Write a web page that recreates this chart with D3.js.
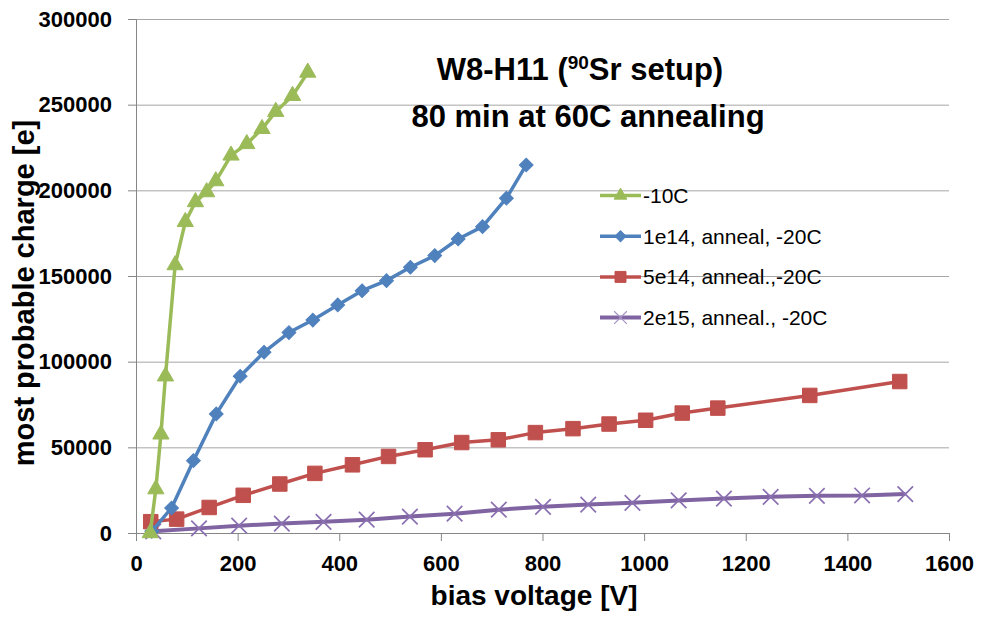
<!DOCTYPE html>
<html>
<head>
<meta charset="utf-8">
<script src="https://cdn.jsdelivr.net/npm/d3@7"></script>
<style>
  body { margin: 0; background: #fff; }
  svg text { font-family: "Liberation Sans", Arial, sans-serif; fill: #000; }
</style>
</head>
<body>
<svg id="chart" width="981" height="619"></svg>
<script>
// Data
var xTicks = [0, 200, 400, 600, 800, 1000, 1200, 1400, 1600];
var yTicks = [0, 50000, 100000, 150000, 200000, 250000, 300000];

var greenV = [28, 39, 49, 58, 77, 97, 117, 139, 157, 187, 218, 248, 275, 308, 338];
var greenQ = [0, 25600, 57600, 91500, 156400, 181600, 193200, 199000, 205400, 220400, 227100, 235900, 245900, 255200, 268800];

var blueV = [31, 70, 113, 158, 205, 252, 301, 348, 397, 445, 493, 540, 588, 634, 682, 729, 768];
var blueQ = [1000, 14600, 42200, 69500, 91500, 105500, 117000, 124300, 133100, 141400, 147300, 155100, 161900, 171600, 178800, 195400, 214800];

var redV = [29, 80, 144, 211, 283, 352, 426, 497, 569, 641, 713, 786, 860, 931, 1003, 1075, 1145, 1326, 1503];
var redQ = [6600, 8100, 14900, 22000, 28600, 34800, 39800, 44700, 48600, 52800, 54400, 58600, 60900, 63600, 65800, 70000, 72900, 80300, 88400];

var purpleV = [34, 124, 203, 287, 369, 454, 539, 627, 714, 801, 890, 977, 1068, 1157, 1249, 1340, 1429, 1514];
var purpleQ = [1000, 2700, 4300, 5500, 6500, 7800, 9600, 11300, 13600, 15300, 16600, 17600, 19000, 20100, 21100, 21700, 21900, 22700];

var seriesNames = ["-10C", "1e14, anneal, -20C", "5e14, anneal.,-20C", "2e15, anneal., -20C"];

// Colors (Excel 2007 palette)
var cGreen = "#9bbb59", cBlue = "#4f81bd", cRed = "#c0504d", cPurple = "#8064a2";

var svg = d3.select("#chart");
var dim = { left: 136, right: 949, top: 19, bottom: 533 };

var xScale = d3.scaleLinear().domain([0, 1600]).range([dim.left, dim.right]);
var yScale = d3.scaleLinear().domain([0, 300000]).range([dim.bottom, dim.top]);

// custom X marker
var symbolCross = {
  draw: function(ctx, size) {
    var r = Math.sqrt(size) / 2;
    ctx.moveTo(-r, -r); ctx.lineTo(r, r);
    ctx.moveTo(r, -r); ctx.lineTo(-r, r);
  }
};

// Gridlines
svg.append("g")
   .attr("class", "grid")
   .attr("transform", "translate(" + dim.left + ",0)")
   .call(d3.axisLeft(yScale).tickValues(yTicks).tickSize(-(dim.right - dim.left)).tickFormat(""))
   .call(function(g) {
     g.select(".domain").remove();
     g.selectAll("line").attr("stroke", "#a6a6a6").attr("stroke-width", 1);
   });

// Y axis
var yAxis = d3.axisLeft(yScale).tickValues(yTicks).tickSize(8).tickPadding(16).tickFormat(d3.format("d"));
svg.append("g")
   .attr("transform", "translate(" + dim.left + ",0)")
   .call(yAxis)
   .call(function(g) {
     g.select(".domain").attr("stroke", "#868686");
     g.selectAll("line").attr("stroke", "#868686");
     g.selectAll("text").attr("font-size", 22).attr("font-weight", "bold")
      .attr("font-family", "Liberation Sans, Arial, sans-serif").attr("fill", "#000");
   });

// X axis
var xAxis = d3.axisBottom(xScale).tickValues(xTicks).tickSize(8).tickPadding(14).tickFormat(d3.format("d"));
svg.append("g")
   .attr("transform", "translate(0," + dim.bottom + ")")
   .call(xAxis)
   .call(function(g) {
     g.select(".domain").attr("stroke", "#868686");
     g.selectAll("line").attr("stroke", "#868686");
     g.selectAll("text").attr("font-size", 22).attr("font-weight", "bold")
      .attr("font-family", "Liberation Sans, Arial, sans-serif").attr("fill", "#000");
   });

// Axis titles
svg.append("text")
   .attr("x", 534).attr("y", 605)
   .attr("text-anchor", "middle")
   .attr("font-size", 28).attr("font-weight", "bold")
   .text("bias voltage [V]");
svg.append("text")
   .attr("transform", "translate(34,293) rotate(-90)")
   .attr("text-anchor", "middle")
   .attr("font-size", 29).attr("font-weight", "bold")
   .text("most probable charge [e]");

// Chart title
var t1 = svg.append("text")
   .attr("x", 580).attr("y", 80)
   .attr("text-anchor", "middle")
   .attr("font-size", 31).attr("font-weight", "bold");
t1.append("tspan").text("W8-H11 (");
t1.append("tspan").attr("font-size", 19).attr("dy", -11).text("90");
t1.append("tspan").attr("dy", 11).text("Sr setup)");
svg.append("text")
   .attr("x", 588).attr("y", 127)
   .attr("text-anchor", "middle")
   .attr("font-size", 31).attr("font-weight", "bold")
   .text("80 min at 60C annealing");

// Series
var series = [
  { v: purpleV, q: purpleQ, color: cPurple, width: 4, type: symbolCross, size: 240, fill: "none", mstroke: "#8a70b0", mwidth: 1.7, rot: 0 },
  { v: redV, q: redQ, color: cRed, width: 3.5, type: d3.symbolSquare, size: 210, fill: cRed, mstroke: cRed, mwidth: 1, rot: 0 },
  { v: blueV, q: blueQ, color: cBlue, width: 3.5, type: d3.symbolSquare, size: 95, fill: cBlue, mstroke: cBlue, mwidth: 1, rot: 45 },
  { v: greenV, q: greenQ, color: cGreen, width: 3.5, type: d3.symbolTriangle, size: 115, fill: cGreen, mstroke: cGreen, mwidth: 1, rot: 0 }
];

var line = d3.line()
  .x(function(d) { return xScale(d[0]); })
  .y(function(d) { return yScale(d[1]); });

var group_lines = svg.append("g").attr("id", "group_lines");
series.forEach(function(s) {
  var pts = s.v.map(function(v, i) { return [v, s.q[i]]; });
  group_lines.append("path")
     .datum(pts)
     .attr("fill", "none")
     .attr("stroke", s.color)
     .attr("stroke-width", s.width)
     .attr("stroke-linejoin", "round")
     .attr("d", line);
  group_lines.selectAll(null)
     .data(pts)
     .enter()
     .append("path")
     .attr("transform", function(d) {
       return "translate(" + xScale(d[0]) + "," + yScale(d[1]) + ") rotate(" + s.rot + ")";
     })
     .attr("d", d3.symbol().type(s.type).size(s.size))
     .attr("fill", s.fill)
     .attr("stroke", s.mstroke)
     .attr("stroke-width", s.mwidth);
});

// Legend
var legendItems = [
  { color: cGreen, type: d3.symbolTriangle, size: 70, fill: cGreen, mstroke: cGreen, mwidth: 1, rot: 0, width: 3.5 },
  { color: cBlue, type: d3.symbolSquare, size: 60, fill: cBlue, mstroke: cBlue, mwidth: 1, rot: 45, width: 3.5 },
  { color: cRed, type: d3.symbolSquare, size: 120, fill: cRed, mstroke: cRed, mwidth: 1, rot: 0, width: 3.5 },
  { color: cPurple, type: symbolCross, size: 160, fill: "none", mstroke: "#a593c4", mwidth: 1.2, rot: 0, width: 4 }
];
var legend = svg.append("g").attr("id", "legend");
legendItems.forEach(function(it, i) {
  var y = 195.5 + i * 40.7;
  legend.append("line")
     .attr("x1", 600).attr("x2", 641).attr("y1", y).attr("y2", y)
     .attr("stroke", it.color).attr("stroke-width", it.width);
  legend.append("path")
     .attr("transform", "translate(620.5," + y + ") rotate(" + it.rot + ")")
     .attr("d", d3.symbol().type(it.type).size(it.size))
     .attr("fill", it.fill).attr("stroke", it.mstroke).attr("stroke-width", it.mwidth);
  legend.append("text")
     .attr("x", 643).attr("y", y).attr("dy", "0.36em")
     .attr("font-size", 21)
     .text(seriesNames[i]);
});
</script>
</body>
</html>
